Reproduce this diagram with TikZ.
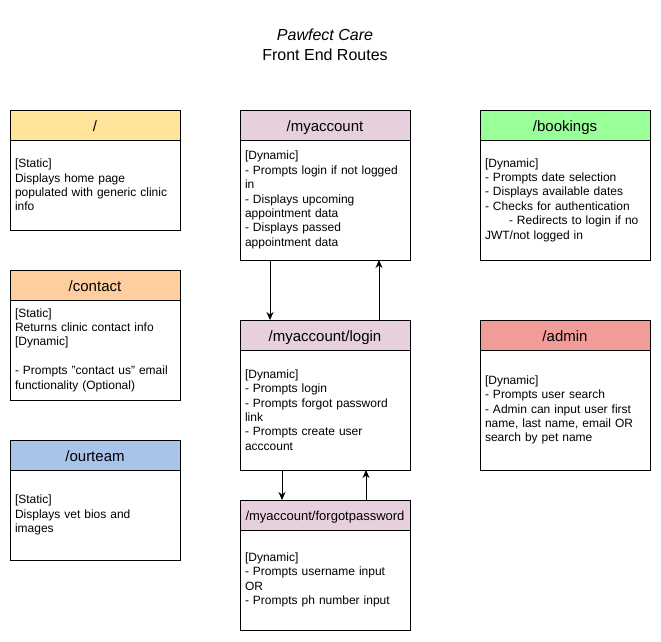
\documentclass[tikz,border=0pt]{standalone}
\usepackage{fontspec}
\setmainfont{Liberation Sans}
\usetikzlibrary{positioning,arrows.meta}

\definecolor{homeyellow}{HTML}{FFE599}
\definecolor{contactorange}{HTML}{FFCE9F}
\definecolor{teamblue}{HTML}{A9C4EB}
\definecolor{accountpink}{HTML}{E6D0DE}
\definecolor{bookinggreen}{HTML}{99FF99}
\definecolor{adminred}{HTML}{F19C99}

\tikzset{every picture/.style={line width=1pt}}

\begin{document}
\begin{tikzpicture}[x=1pt,y=1pt,yscale=-1,
    route/.style={draw, fill=#1, minimum width=170pt, minimum height=30pt, outer sep=0pt, inner sep=0pt, text height=13pt, text depth=0pt, font=\fontsize{15}{18}\selectfont},
    routebody/.style={draw, fill=white, minimum width=170pt, minimum height=#1, text width=160pt, inner xsep=5pt, inner ysep=0pt, outer sep=0pt, align=left, font=\fontsize{12}{14.4}\selectfont},
    link/.style={-{Stealth[length=8pt,width=7pt]}}]
  \useasboundingbox (0,0) rectangle (661,641);

  % title
  \node[align=center, font=\fontsize{16}{20}\selectfont] (title) at (325,45) {\itshape Pawfect Care\\Front End Routes};

  % left column
  \node[route=homeyellow] (home) at (95,125) {/};
  \node[routebody=90pt, below=0pt of home] (homebody) {[Static]\\Displays home page\\populated with generic clinic\\info};

  \node[route=contactorange] (contact) at (95,285) {/contact};
  \node[routebody=100pt, below=0pt of contact] (contactbody) {[Static]\\Returns clinic contact info\\{}[Dynamic]\\[14.4pt]- Prompts "contact us" email\\functionality (Optional)};

  \node[route=teamblue] (ourteam) at (95,455) {/ourteam};
  \node[routebody=90pt, below=0pt of ourteam] (ourteambody) {[Static]\\Displays vet bios and\\images};

  % middle column
  \node[route=accountpink] (myacc) at (325,125) {/myaccount};
  \node[routebody=120pt, below=0pt of myacc] (myaccbody) {[Dynamic]\\- Prompts login if not logged\\in\\- Displays upcoming\\appointment data\\- Displays passed\\appointment data};

  \node[route=accountpink] (login) at (325,335) {/myaccount/login};
  \node[routebody=120pt, below=0pt of login] (loginbody) {[Dynamic]\\- Prompts login\\- Prompts forgot password\\link\\- Prompts create user\\acccount};

  \node[route=accountpink, font=\fontsize{13}{16}\selectfont, text height=11.5pt] (forgot) at (325,515) {/myaccount/forgotpassword};
  \node[routebody=100pt, below=0pt of forgot] (forgotbody) {[Dynamic]\\- Prompts username input\\OR\\- Prompts ph number input};

  % right column
  \node[route=bookinggreen] (bookings) at (565,125) {/bookings};
  \node[routebody=120pt, below=0pt of bookings] (bookingsbody) {[Dynamic]\\- Prompts date selection\\- Displays available dates\\- Checks for authentication\\\hspace*{24pt}- Redirects to login if no\\JWT/not logged in};

  \node[route=adminred] (admin) at (565,335) {/admin};
  \node[routebody=120pt, below=0pt of admin] (adminbody) {[Dynamic]\\- Prompts user search\\- Admin can input user first\\name, last name, email OR\\search by pet name};

  % links
  \draw[link] ([xshift=30pt]myaccbody.south west) -- ([xshift=30pt]login.north west);
  \draw[link] ([xshift=139pt]login.north west) -- ([xshift=139pt]myaccbody.south west);
  \draw[link] ([xshift=42pt]loginbody.south west) -- ([xshift=42pt]forgot.north west);
  \draw[link] ([xshift=126pt]forgot.north west) -- ([xshift=126pt]loginbody.south west);
\end{tikzpicture}
\end{document}
